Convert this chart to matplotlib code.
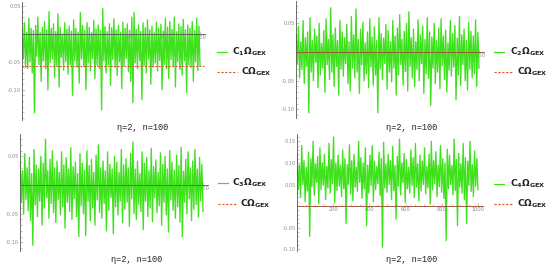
import numpy as np
import matplotlib.pyplot as plt
from matplotlib.lines import Line2D
from matplotlib.ticker import MultipleLocator, FuncFormatter

plt.rcParams['axes.unicode_minus'] = False

# values, in thousandths: alternating upper / lower swings
hi1 = [8, 20, 3, 28, 10, 6, 15, 30, 2, 12, 22, 7, 40, 10, 18, 4, 36, 12, 0, 20,
       8, 14, 5, 25, 10, 3, 38, 15, 6, 20, 12, 2, 24, 9, 16, 6, 45, 13, 4, 18,
       11, 27, 7, 15, 3, 21, 10, 18, 6, 30, 38, 8, 16, 4, 20, 11, 25, 7, 14, 2,
       21, 10, 17, 5, 28, 12, 22, 8, 30, 4, 18, 13, 26, 7, 16, 10, 22, 6, 28, 14]
lo1 = [-45, -60, -62, -50, -70, -141, -40, -55, -85, -48, -62, -100, -52, -45, -78, -58, -95, -42, -65, -50,
       -72, -55, -110, -48, -60, -88, -45, -58, -100, -52, -66, -44, -80, -56, -62, -136, -48, -70, -55, -92,
       -46, -60, -75, -50, -98, -58, -44, -68, -85, -123, -52, -62, -48, -118, -57, -70, -45, -90, -60, -52,
       -66, -48, -100, -55, -62, -80, -46, -58, -95, -50, -64, -74, -48, -105, -56, -60, -85, -50, -66, -58]

hi2 = [30, 45, 18, 55, 25, 35, 60, 20, 40, 28, 50, 15, 38, 58, 22, 77, 30, 42, 20, 55,
       35, 25, 48, 18, 62, 30, 75, 22, 40, 52, 16, 35, 58, 26, 44, 20, 60, 32, 24, 48,
       38, 18, 55, 28, 42, 65, 22, 36, 50, 70, 25, 40, 18, 56, 30, 45, 22, 60, 35, 26,
       50, 20, 42, 58, 28, 38, 16, 55, 32, 46, 24, 62, 30, 40, 20, 52, 36, 28, 56, 34]
lo2 = [-20, -45, -30, -55, -25, -106, -35, -50, -18, -62, -40, -28, -70, -22, -48, -35, -60, -25, -75, -30,
       -42, -20, -55, -68, -28, -45, -35, -72, -22, -50, -38, -62, -26, -58, -40, -106, -30, -48, -20, -65,
       -35, -52, -28, -75, -40, -22, -58, -34, -68, -25, -45, -60, -30, -50, -20, -72, -38, -46, -93, -28,
       -55, -35, -64, -24, -48, -70, -32, -42, -26, -83, -40, -58, -22, -50, -66, -30, -45, -38, -60, -28]

hi3 = [40, 25, 55, 30, 48, 20, 62, 35, 28, 50, 38, 80, 25, 45, 60, 30, 42, 22, 58, 35,
       48, 28, 65, 32, 40, 20, 55, 38, 26, 60, 34, 45, 22, 52, 70, 30, 42, 25, 58, 36,
       28, 50, 40, 22, 62, 35, 46, 30, 55, 75, 28, 42, 20, 58, 38, 48, 25, 64, 32, 44,
       22, 56, 36, 50, 28, 60, 40, 26, 52, 34, 66, 24, 45, 58, 30, 42, 62, 28, 48, 36]
lo3 = [-30, -50, -25, -45, -62, -105, -35, -55, -28, -70, -40, -22, -58, -32, -48, -65, -25, -52, -38, -75,
       -30, -46, -60, -24, -55, -90, -36, -50, -88, -28, -62, -40, -70, -26, -48, -58, -32, -80, -44, -22,
       -85, -38, -52, -28, -66, -42, -30, -72, -24, -50, -60, -34, -46, -78, -28, -55, -40, -64, -22, -48,
       -36, -70, -30, -52, -82, -26, -44, -58, -38, -65, -90, -30, -50, -24, -62, -42, -34, -56, -28, -46]

hi4 = [120, 95, 140, 105, 90, 125, 110, 150, 98, 115, 135, 100, 120, 92, 145, 108, 160, 100, 118, 95,
       130, 110, 96, 142, 105, 120, 90, 150, 112, 100, 135, 95, 118, 140, 104, 92, 125, 110, 148, 98,
       120, 105, 138, 94, 115, 155, 100, 122, 108, 90, 130, 112, 145, 98, 118, 104, 135, 92, 120, 150,
       106, 126, 95, 140, 110, 100, 132, 118, 94, 155, 108, 122, 98, 145, 112, 104, 150, 96, 128, 110]
lo4 = [40, 20, 50, 10, 35, -70, 45, 25, 55, 5, 38, 48, 15, 42, 30, 52, 8, 36, 46, 22,
       40, -40, 50, 28, 12, 44, 34, 55, 18, 40, -45, 30, 48, 10, 38, 52, 24, -95, 42, 32,
       50, 15, 36, -30, 46, 26, 54, 8, 40, 30, 48, 20, 44, 12, 35, 50, 28, 42, 5, 38,
       52, 22, 45, 32, 18, -80, 40, 50, 26, 36, -45, 44, 30, 15, -40, 48, 34, 22, 46, 38]

c_levels = [-0.058, 0.0, 0.0, 0.0]
series_labels = [r'$\mathbf{C_1\Omega_{GEX}}$', r'$\mathbf{C_2\Omega_{GEX}}$',
                 r'$\mathbf{C_3\Omega_{GEX}}$', r'$\mathbf{C_4\Omega_{GEX}}$']
c_label = r'$\mathbf{C\Omega_{GEX}}$'
caption = 'η=2, n=100'
yticks_all = [[0.05, -0.05, -0.10], [0.05, -0.05, -0.10],
              [0.05, -0.05, -0.10], [0.15, 0.10, 0.05, -0.05, -0.10]]
xticks = [200, 400, 600, 800, 1000]

GREEN = '#3fe01c'
RED = '#d2522a'
W, H = 550, 266

fig = plt.figure(figsize=(5.5, 2.66), dpi=100)


def rect_px(left, top, right, bottom):
    return [left / W, 1 - bottom / H, (right - left) / W, (bottom - top) / H]


def draw_panel(rect, hi, lo, c_level, ylim, yticks, label, leg, cap):
    ax = fig.add_axes(rect)
    n = min(len(hi), len(lo))
    y = np.empty(2 * n)
    y[0::2] = np.array(hi[:n]) / 1000
    y[1::2] = np.array(lo[:n]) / 1000
    x = np.linspace(1, 1000, 2 * n)
    ax.plot(x, y, color=GREEN, lw=0.95, zorder=2)
    ax.axhline(c_level, color=RED, lw=0.7, dashes=(2, 1.5), zorder=4)
    ax.set_xlim(0, 1025)
    ax.set_ylim(*ylim)
    ax.patch.set_alpha(0)
    for s in ['top', 'right']:
        ax.spines[s].set_visible(False)
    ax.spines['bottom'].set_position(('data', 0))
    ax.spines['left'].set_position(('data', 0))
    for s in ['bottom', 'left']:
        ax.spines[s].set_color('#555555')
        ax.spines[s].set_linewidth(0.6)
        ax.spines[s].set_zorder(3)
    ax.set_xticks(xticks)
    ax.xaxis.set_minor_locator(MultipleLocator(50))
    ax.set_yticks(yticks)
    ax.yaxis.set_minor_locator(MultipleLocator(0.01))
    ax.yaxis.set_major_formatter(FuncFormatter(lambda v, p: f'{v:.2f}'))
    ax.tick_params(which='both', direction='in', labelsize=3.6, labelcolor='#888888',
                   color='#999999', width=0.4, pad=1)
    ax.tick_params(which='major', length=2.5)
    ax.tick_params(which='minor', length=1.3)

    # legend drawn by hand beside the axes
    gx0, gx1, tx, gy, dx1, dtx, dy = leg
    fig.add_artist(Line2D([gx0 / W, gx1 / W], [1 - gy / H] * 2, color=GREEN, lw=0.9))
    fig.text(tx / W, 1 - gy / H, label, va='center', ha='left', fontsize=6.5, color='#222222')
    fig.add_artist(Line2D([gx0 / W, dx1 / W], [1 - dy / H] * 2, color=RED, lw=0.8,
                          dashes=(2, 1.5)))
    fig.text(dtx / W, 1 - dy / H, c_label, va='center', ha='left', fontsize=6.5, color='#222222')

    fig.text(cap[0] / W, 1 - cap[1] / H, caption, ha='center', va='center', fontsize=6.2,
             family=['Liberation Mono', 'DejaVu Sans Mono'], color='#222222')
    return ax


draw_panel(rect_px(22, 2, 22 + 182.5, 120), hi1, lo1, c_levels[0], (-0.154, 0.057),
           yticks_all[0], series_labels[0], (217, 227, 232, 52, 237, 241, 72), (143, 127))
draw_panel(rect_px(296, 1, 296 + 187.6, 118), hi2, lo2, c_levels[1], (-0.115, 0.089),
           yticks_all[1], series_labels[1], (494, 504, 510, 52, 513, 517, 72), (412, 127))
draw_panel(rect_px(20, 134, 20 + 187.6, 251), hi3, lo3, c_levels[2], (-0.115, 0.089),
           yticks_all[2], series_labels[2], (218, 228, 232, 183, 237, 240, 204), (137, 260))
draw_panel(rect_px(297, 134, 297 + 185.5, 251), hi4, lo4, c_levels[3], (-0.104, 0.167),
           yticks_all[3], series_labels[3], (494, 504, 510, 184, 513, 517, 204), (412, 260))

fig.savefig('out.png', dpi=100)
